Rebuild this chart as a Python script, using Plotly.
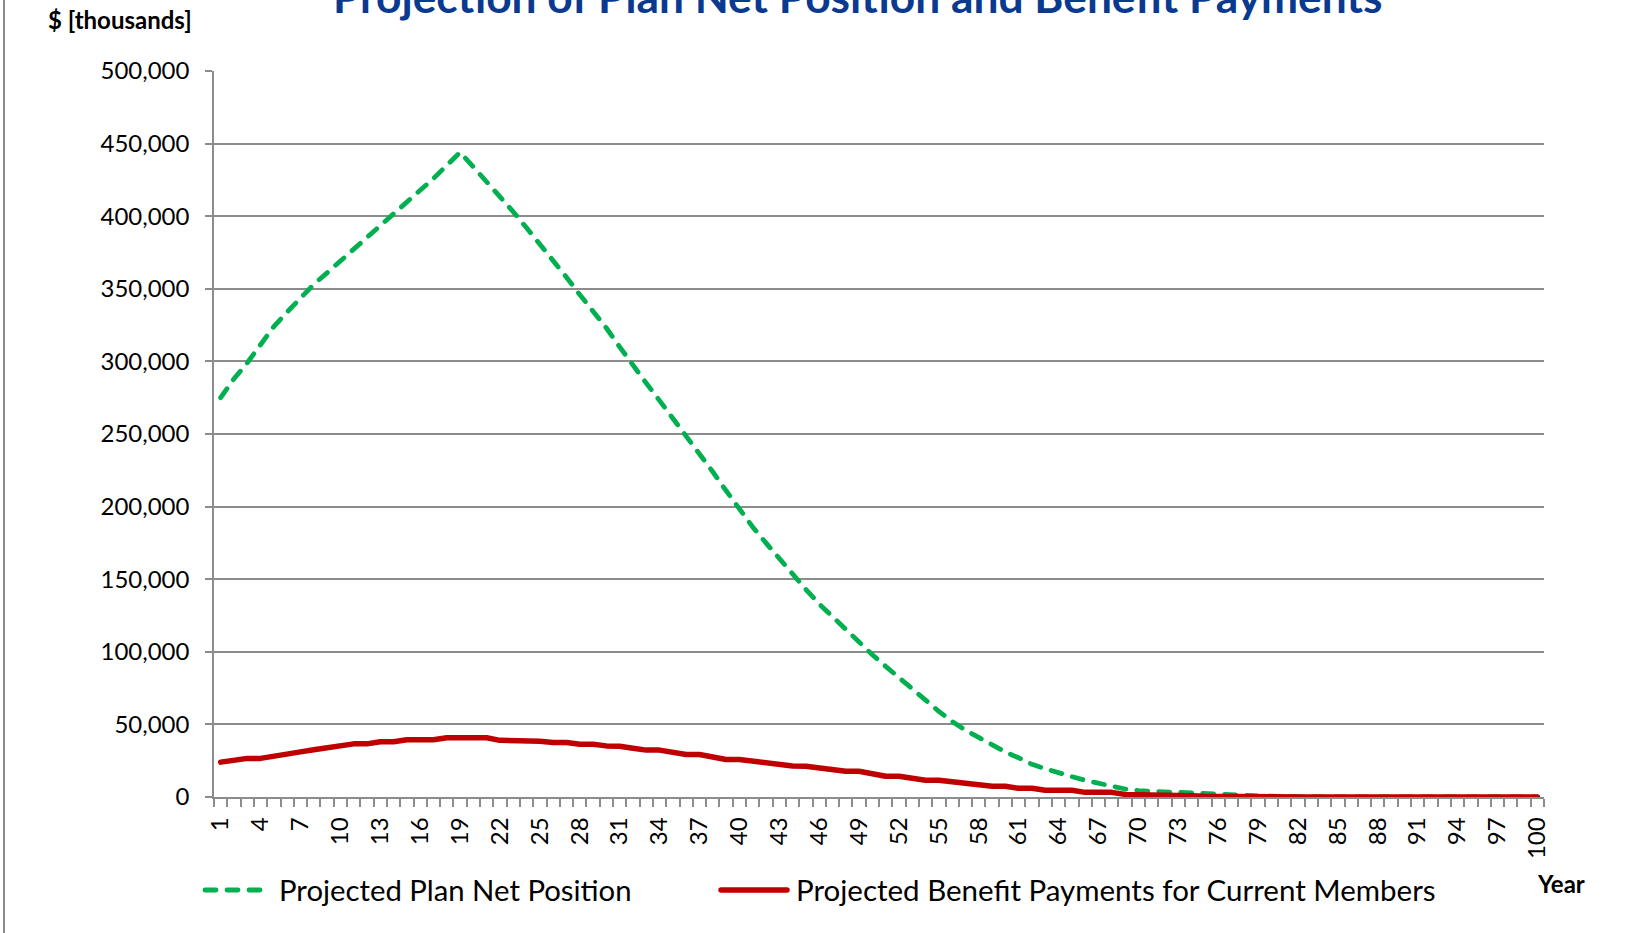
import plotly.graph_objects as go

# ---------------- data ($ thousands) ----------------
years = list(range(1, 101))

net_position = [
    275000, 288000, 299000, 311000, 324000, 334000, 344000, 353000, 361000, 369000,
    377000, 385000, 393500, 401500, 410000, 418000, 426000, 435000, 444000, 434000,
    424000, 414000, 403000, 392000, 381000, 370000, 358000, 346000, 335000, 323000,
    310000, 297000, 285000, 273000, 261000, 249000, 236000, 224000, 211000, 198000,
    186000, 175000, 164000, 153000, 143000, 133000, 124000, 115000, 106000, 98000,
    90000, 82000, 74000, 66000, 59000, 52000, 46000, 41000, 36000, 31000,
    27000, 22500, 19500, 16500, 14000, 11500, 9500, 7200, 5500, 4400,
    3900, 3300, 2800, 2400, 2100, 1800, 1500, 1100, 700, 400,
    200, 100, 0, 0, 0, 0, 0, 0, 0, 0,
    0, 0, 0, 0, 0, 0, 0, 0, 0, 0,
]

benefit_payments = [
    24000, 25300, 26600, 26600, 28400, 29700, 31100, 32500, 33900, 35300,
    36600, 36600, 38000, 38000, 39400, 39400, 39400, 40800, 40800, 40800,
    40800, 39000, 39000, 39000, 38400, 37600, 37600, 36400, 36400, 35200,
    34900, 33600, 32300, 32300, 30800, 29300, 29300, 27500, 25800, 25800,
    24500, 23200, 22000, 21300, 21200, 19900, 18600, 17700, 17700, 16000,
    14300, 14300, 12900, 11500, 11500, 10500, 10100, 8800, 7400, 7400,
    6000, 6000, 4600, 4600, 4600, 3200, 3200, 3200, 1800, 1800,
    1800, 1400, 900, 900, 500, 300, 200, 100, 0, 0,
    0, 0, 0, 0, 0, 0, 0, 0, 0, 0,
    0, 0, 0, 0, 0, 0, 0, 0, 0, 0,
]

x_tick_vals = list(range(1, 101, 3))
x_tick_text = [str(v) for v in x_tick_vals]
y_tick_vals = list(range(0, 500001, 50000))

series_names = ["Projected Plan Net Position", "Projected Benefit Payments for Current Members"]
title_text = "Projection of Plan Net Position and Benefit Payments"

# ---------------- styling ----------------
GREEN = "#00b050"
RED = "#c00000"
GRID = "#8c8c8c"
FONT = "Lato, Carlito, Calibri, sans-serif"

W, H = 1627, 933
ML, MR, MT, MB = 214, 83, 71, 136
PW, PH = W - ML - MR, H - MT - MB


def px_x(px):
    return (px - ML) / PW


def px_y(py):
    return (H - MB - py) / PH


fig = go.Figure()
fig.add_trace(go.Scatter(
    x=years, y=net_position, mode="lines", name=series_names[0],
    line=dict(color=GREEN, width=4.8, dash="11px,11px"), showlegend=False,
))
fig.add_trace(go.Scatter(
    x=years, y=benefit_payments, mode="lines", name=series_names[1],
    line=dict(color=RED, width=5.5), showlegend=False,
))

fig.update_layout(
    width=W, height=H,
    margin=dict(l=ML, r=MR, t=MT, b=MB, autoexpand=False),
    paper_bgcolor="white", plot_bgcolor="white",
    font=dict(family=FONT, color="#000000", size=24),
    xaxis=dict(
        range=[0.5, 100.5], tickmode="array", tickvals=x_tick_vals, ticktext=x_tick_text,
        tickangle=-90, ticks="", showgrid=False, zeroline=False, automargin=False,
        showline=True, linecolor=GRID, linewidth=1.5,
        ticklabelstandoff=9,
        tickfont=dict(size=24),
        minor=dict(tickmode="linear", tick0=0.5, dtick=1, ticks="outside",
                   ticklen=8, tickwidth=1.5, tickcolor=GRID, showgrid=False),
    ),
    yaxis=dict(
        range=[0, 500000], tickmode="array", tickvals=y_tick_vals, tickformat=",d",
        ticks="outside", ticklen=7, tickwidth=1.5, tickcolor=GRID, automargin=False,
        showgrid=True, gridcolor=GRID, gridwidth=1.5, zeroline=False,
        showline=True, linecolor=GRID, linewidth=1.5,
        ticklabelstandoff=11,
        tickfont=dict(size=24),
    ),
    showlegend=False,
)

annotations = [
    dict(text="<b>" + title_text + "</b>", x=px_x(857), y=px_y(24), xref="paper", yref="paper",
         xanchor="center", yanchor="bottom", showarrow=False,
         font=dict(size=44.3, color="#0a3a8f", family=FONT)),
    dict(text="<b>$ [thousands]</b>", x=px_x(120), y=px_y(20), xref="paper", yref="paper",
         xanchor="center", yanchor="middle", showarrow=False,
         font=dict(size=24, color="#000000", family=FONT)),
    dict(text="<b>Year</b>", x=px_x(1561), y=px_y(883), xref="paper", yref="paper",
         xanchor="center", yanchor="middle", showarrow=False,
         font=dict(size=24, color="#000000", family=FONT)),
    dict(text=series_names[0], x=px_x(277), y=px_y(890), xref="paper", yref="paper",
         xanchor="left", yanchor="middle", showarrow=False,
         font=dict(size=29.3, color="#000000", family=FONT)),
    dict(text=series_names[1], x=px_x(794), y=px_y(890), xref="paper", yref="paper",
         xanchor="left", yanchor="middle", showarrow=False,
         font=dict(size=29.5, color="#000000", family=FONT)),
]

shapes = [
    # legend samples
    dict(type="line", xref="paper", yref="paper", x0=px_x(205), x1=px_x(266),
         y0=px_y(890), y1=px_y(890), line=dict(color=GREEN, width=4.8, dash="11px,11px")),
    dict(type="line", xref="paper", yref="paper", x0=px_x(721), x1=px_x(787),
         y0=px_y(890), y1=px_y(890), line=dict(color=RED, width=5.5)),
    # chart frame (left edge)
    dict(type="line", xref="paper", yref="paper", x0=px_x(4), x1=px_x(4),
         y0=px_y(0), y1=px_y(933), line=dict(color="#8c8c8c", width=2)),
]

fig.update_layout(annotations=annotations, shapes=shapes)

post_js = (
    "var s=document.createElement('style');"
    "s.innerHTML='html,body{margin:0;padding:0;}"
    ".scatterlayer .js-line, .shapelayer path{stroke-linecap:round;stroke-linejoin:round;}';"
    "document.head.appendChild(s);"
)

fig.write_html("out.html", post_script=post_js, config={"displayModeBar": False})
